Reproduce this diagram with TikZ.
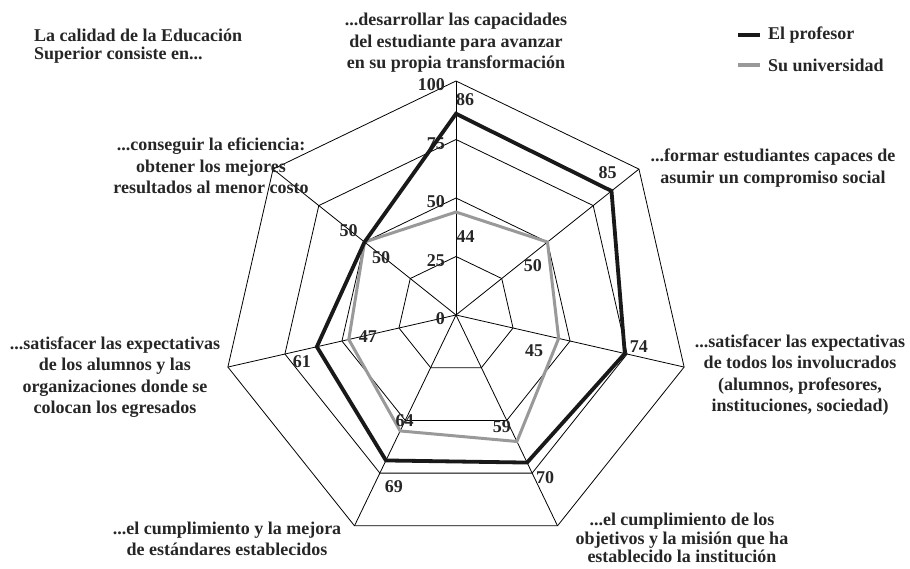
\documentclass[tikz,border=0pt]{standalone}
\usepackage{fontspec}
\setmainfont{Liberation Serif}
\usepackage{tikz}
\usetikzlibrary{positioning,calc}

\begin{document}
\begin{tikzpicture}[
    x=1pt, y=1pt,
    % ── styles ──
    grid/.style   = {draw=black, line width=0.8pt},
    prof/.style   = {draw=black!90, line width=3.8pt, line join=miter},
    univ/.style   = {draw=black!40, line width=3pt, line join=miter},
    catlbl/.style = {font=\fontsize{18}{21.5}\selectfont\bfseries, text=black!85,
                     align=center, inner sep=0pt},
    titl/.style   = {font=\fontsize{18}{17.5}\selectfont\bfseries, text=black!85,
                     align=left, inner sep=0pt},
    val/.style    = {font=\fontsize{18}{18}\selectfont\bfseries, text=black!85,
                     inner sep=0pt},
    tick/.style   = {val, anchor=east, xshift=-11, yshift=-4},
]
\useasboundingbox (0,0) rectangle (910,569);

% =====================================================================
%  AXES: seven spokes, clockwise from the top
% =====================================================================
\coordinate (c) at (456,254);
\foreach \i/\ang in {1/90, 2/38.571, 3/-12.857, 4/-64.286,
                     5/-115.714, 6/-167.143, 7/141.429}
    \coordinate (a\i) at ($(c)+(\ang:234)$);

% ── rings at 25, 50, 75, 100
\foreach \f in {0.25,0.5,0.75,1}
    \draw[grid] ($(c)!\f!(a1)$) -- ($(c)!\f!(a2)$) -- ($(c)!\f!(a3)$)
        -- ($(c)!\f!(a4)$) -- ($(c)!\f!(a5)$) -- ($(c)!\f!(a6)$)
        -- ($(c)!\f!(a7)$) -- cycle;

% ── spokes
\foreach \i in {1,...,7}
    \draw[grid] (c) -- (a\i);

% ── scale labels on the top spoke
\node[tick] at (c) {0};
\node[tick] at ($(c)!0.25!(a1)$) {25};
\node[tick] at ($(c)!0.50!(a1)$) {50};
\node[tick] at ($(c)!0.75!(a1)$) {75};
\node[tick] at (a1) {100};

% =====================================================================
%  SERIES: Su universidad (gray) and El profesor (black)
% =====================================================================
\coordinate (u1) at ($(c)!0.44!(a1)$);
\coordinate (u2) at ($(c)!0.50!(a2)$);
\coordinate (u3) at ($(c)!0.45!(a3)$);
\coordinate (u4) at ($(c)!0.60!(a4)$);
\coordinate (u5) at ($(c)!0.55!(a5)$);
\coordinate (u6) at ($(c)!0.47!(a6)$);
\coordinate (u7) at ($(c)!0.50!(a7)$);
\draw[univ] (u1) -- (u2) -- (u3) -- (u4) -- (u5) -- (u6) -- (u7) -- cycle;

\coordinate (p1) at ($(c)!0.86!(a1)$);
\coordinate (p2) at ($(c)!0.85!(a2)$);
\coordinate (p3) at ($(c)!0.74!(a3)$);
\coordinate (p4) at ($(c)!0.70!(a4)$);
\coordinate (p5) at ($(c)!0.69!(a5)$);
\coordinate (p6) at ($(c)!0.61!(a6)$);
\coordinate (p7) at ($(c)!0.50!(a7)$);
\draw[prof] (p1) -- (p2) -- (p3) -- (p4) -- (p5) -- (p6) -- (p7) -- cycle;

% ── value labels
\node[val] at ([shift={(9,14)}]p1)       {86};
\node[val] at ([shift={(-4,18.5)}]p2)    {85};
\node[val] at ([shift={(14,6.5)}]p3)     {74};
\node[val] at ([shift={(18,-15)}]p4)     {70};
\node[val] at ([shift={(8,-26)}]p5)      {69};
\node[val] at ([shift={(-15,-15)}]p6)    {61};
\node[val] at ([shift={(-16,11.5)}]p7)   {50};

\node[val] at ([shift={(9.5,-24.5)}]u1)  {44};
\node[val] at ([shift={(-14.5,-24)}]u2)  {50};
\node[val] at ([shift={(-24.5,-12)}]u3)  {45};
\node[val] at ([shift={(-15,15)}]u4)     {59};
\node[val] at ([shift={(4.5,10)}]u5)     {64};
\node[val] at ([shift={(19,3)}]u6)       {47};
\node[val] at ([shift={(16.5,-16)}]u7)   {50};

% =====================================================================
%  CATEGORY LABELS
% =====================================================================
\node[catlbl] (k1) at (456,526) {...desarrollar las capacidades\\
    del estudiante para avanzar\\ en su propia transformación};
\node[catlbl] (k2) at (773,401) {...formar estudiantes capaces de\\
    asumir un compromiso social};
\node[catlbl] (k3) at (800,194) {...satisfacer las expectativas\\
    de todos los involucrados\\ (alumnos, profesores,\\
    instituciones, sociedad)};
\node[catlbl, font=\fontsize{18}{18.5}\selectfont\bfseries]
    (k4) at (682,31)  {...el cumplimiento de los\\
    objetivos y la misión que ha\\ establecido la institución};
\node[catlbl] (k5) at (227,30)  {...el cumplimiento y la mejora\\
    de estándares establecidos};
\node[catlbl] (k6) at (115,192) {...satisfacer las expectativas\\
    de los alumnos y las\\ organizaciones donde se\\
    colocan los egresados};
\node[catlbl] (k7) at (211,403) {...conseguir la eficiencia:\\
    obtener los mejores\\ resultados al menor costo};

% ── title
\node[titl, anchor=west] (title) at (34,523) {La calidad de la Educación\\
    Superior consiste en...};

% =====================================================================
%  LEGEND
% =====================================================================
\coordinate (lg1) at (738,534);
\coordinate (lg2) at (738,504);
\draw[prof, line width=4.5pt] (lg1) -- ++(22,0) coordinate (lg1e);
\draw[univ, line width=4.5pt] (lg2) -- ++(22,0) coordinate (lg2e);
\node[val, anchor=west, right=8pt of lg1e] (leg1) {El profesor};
\node[val, anchor=west, right=8pt of lg2e] (leg2) {Su universidad};

\end{tikzpicture}
\end{document}
